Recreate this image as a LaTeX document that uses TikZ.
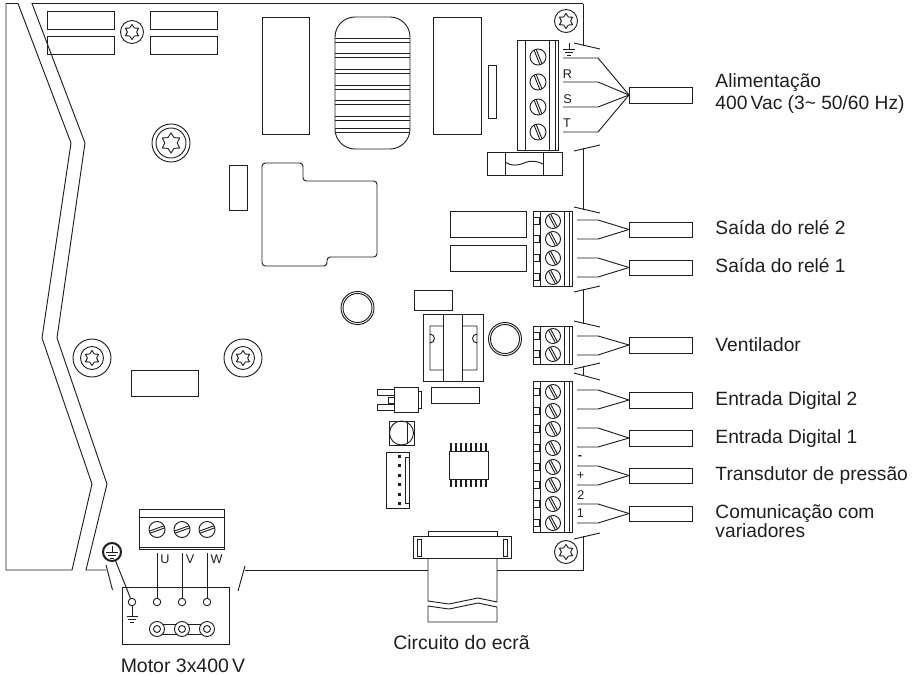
\documentclass[tikz,border=0pt]{standalone}
\usepackage{fontspec}
\setmainfont{Liberation Sans}
\definecolor{ink}{gray}{0.12}
\tikzset{
 every path/.style={line width=0.7pt},
 txt/.style={font=\fontsize{14.4pt}{16.5pt}\selectfont,text=ink,inner sep=0pt,anchor=base west,align=left},
 txttwo/.style={font=\fontsize{14.4pt}{16.5pt}\selectfont,text=ink,inner sep=0pt,anchor=west,align=left},
 txtthree/.style={font=\fontsize{14.4pt}{13.2pt}\selectfont,text=ink,inner sep=0pt,anchor=west,align=left},
 ctxt/.style={font=\fontsize{14.6pt}{16pt}\selectfont,text=ink,inner sep=0pt,anchor=base},
 small/.style={font=\fontsize{9.5pt}{10pt}\selectfont,text=ink,inner sep=0pt},
 termbox/.style={draw=ink,rectangle,inner sep=0pt,outer sep=0pt,minimum width=47.25pt},
}
\newcommand{\torx}[3]{\draw[shift={(#1,#2)}] (90:#3) -- (120:0.62*#3) -- (150:#3) -- (180:0.62*#3) -- (210:#3) -- (240:0.62*#3) -- (270:#3) -- (300:0.62*#3) -- (330:#3) -- (0:0.62*#3) -- (30:#3) -- (60:0.62*#3) -- cycle;}
\newcommand{\slotscrew}[4]{\begin{scope}[shift={(#1,#2)},rotate=#3]
 \draw (0,0) circle[radius=#4];
 \draw (-#4+0.3,-1.1) -- (#4-0.3,-1.1) (-#4+0.3,1.1) -- (#4-0.3,1.1);
 \end{scope}}
\newcommand{\wirepair}[5]{% name, upper y, lower y, box top, box bottom
 \pgfmathsetmacro{\boxmid}{(#4+#5)/2}
 \pgfmathsetmacro{\boxht}{(#5-#4)*0.75}
 \node[termbox,minimum height=\boxht pt] (#1) at (660.5,\boxmid) {};
 \coordinate (#1a) at (577,#2);
 \coordinate (#1b) at (577,#3);
 \draw (#1a) -- (598,#2) -- (#1.west);
 \draw (#1b) -- (598,#3) -- (#1.west);}
\newcommand{\tblock}[3]{% top, bottom, list of screw y
 \draw (533,#1) rectangle (572,#2);
 \draw (540,#1) -- (540,#2) (564,#1) -- (564,#2) (569,#1) -- (569,#2);
 \foreach \yy in {#3} {\slotscrew{553}{\yy}{-62}{7.5}
   \draw (533,\yy-4) rectangle (539.5,\yy+3);}}
\begin{document}
\begin{tikzpicture}[x=0.75pt,y=-0.75pt,color=ink]
\useasboundingbox (0,0) rectangle (916,675);
% board outline
\draw (583,3.5) -- (32,3.5) -- (85,143) -- (57,338) -- (107,484) -- (86,570) -- (106,570);
\draw (18,3.5) -- (71,143) -- (42,338) -- (92,484) -- (72,570) -- (6,570) -- (6,3.5) -- (18,3.5);
\draw (106,565) -- (112.5,590);
\draw (245,566) -- (238,591);
\draw (245,570) -- (428,570);
\draw (497,570) -- (583,570) -- (583,536);
\draw (583,3.5) -- (583,46);
\draw (583,148) -- (583,210);
\draw (583,289) -- (583,324);
\draw (583,366) -- (583,376);
\draw (574,43) -- (600,49);
\draw (574,151) -- (600,145);
\draw (574,207) -- (600,213);
\draw (574,292) -- (600,286);
\draw (574,321) -- (600,327);
\draw (574,369) -- (600,363);
\draw (574,373) -- (600,380);
\draw (574,539) -- (600,533);
% top left rects
\draw (47,11) rectangle (114,29);
\draw (47,36) rectangle (114,54);
\draw (150,11) rectangle (217,29);
\draw (150,36) rectangle (217,54);
\draw (132,32) circle[radius=11.5]; \torx{132}{32}{7.5}
\draw (566,21) circle[radius=11.5]; \torx{566}{21}{7.5}
\draw (566,552) circle[radius=11.5]; \torx{566}{552}{7.5}
\draw (171,143) circle[radius=19]; \draw (171,143) circle[radius=15]; \torx{171}{143}{10}
\draw (92,358) circle[radius=19]; \draw (92,358) circle[radius=11.5]; \torx{92}{358}{7.5}
\draw (243,358) circle[radius=19]; \draw (243,358) circle[radius=11.5]; \torx{243}{358}{7.5}
\draw (131,370) rectangle (198,396);
\draw (229,165) rectangle (247,210);
% big parts
\draw (262,17) rectangle (309,134);
\draw (433,17) rectangle (481,134);
\draw (488,65.5) rectangle (496,118);
\draw[rounded corners=15pt] (335,17) rectangle (410,149);
\foreach \yy in {38.5,42.5,53,57,69,73,85.5,89.5,100.5,104.5,116.5,120.5,128.5,132.5}
  \draw (335,\yy) -- (410,\yy);
\draw[rounded corners=2.5pt] (262,163) -- (303,163) -- (303,181) -- (377,181) -- (377,257) -- (327,257) -- (327,266) -- (262,266) -- cycle;
\draw (450,211) rectangle (526,237);
\draw (450,245) rectangle (526,271);
\draw (414,290) rectangle (452,310);
% transformer
\draw (423,314) rectangle (483,381);
\draw (443,314) -- (443,381) (462,314) -- (462,381);
\draw (443,326) -- (430,326) -- (430,343) arc[start angle=90,end angle=-90,radius=4.5] -- (430,370) -- (443,370);
\draw (462,326) -- (477,326) -- (477,343) arc[start angle=90,end angle=270,radius=4.5] -- (477,370) -- (462,370);
\draw (505,339) circle[radius=16.5]; \draw (505,339) circle[radius=14.5];
\draw (357.5,308) circle[radius=16.5]; \draw (357.5,308) circle[radius=14.5];
% transistor
\draw (394,387) rectangle (418,412);
\draw (418,391) -- (421.5,391) -- (421.5,408) -- (418,408);
\draw (394,389) -- (377,389) -- (377,395) -- (394,395);
\draw (394,404) -- (377,404) -- (377,410) -- (394,410);
\draw (394,397) -- (388,397) -- (388,403) -- (394,403);
\draw (431,387) rectangle (479,403);
% square with circle
\draw (389,421) rectangle (414,445);
\draw (401.5,433) circle[radius=12];
\draw (407,422.5) -- (407,443.5);
% IC
\draw (449,451) rectangle (488,479);
\foreach \xx in {451,456,461,466,471,476,481,486}{
  \draw[line width=1.6pt] (\xx,443) -- (\xx,451);
  \draw[line width=1.6pt] (\xx,479) -- (\xx,487);}
% connector
\draw (386,452) rectangle (409,508);
\draw (409,457) -- (405,457) -- (405,503) -- (409,503);
\foreach \yy in {455,464.5,474,483.5,493,502}
  \draw[fill=ink] (398.5,\yy) rectangle ++(2,2);
% power terminal
\draw (517,40) rectangle (558,150);
\draw (525,40) -- (525,150) (549,40) -- (549,150) (555,40) -- (555,150);
\foreach \yy in {57,82,107,132} {\slotscrew{538}{\yy}{-68}{8}}
\draw (487,152) rectangle (562,175);
\draw (505,152) -- (505,175) (543,152) -- (543,175);
\draw (505,162) .. controls (511,166) and (517,166) .. (524,163) .. controls (531,160) and (537,161) .. (543,164);
% second terminals
\tblock{211}{286}{221,239,258,277}
\tblock{326}{364}{336,354}
\tblock{381}{532}{392,411,429,448,467,485,504,523}
% motor terminal
\draw (139,509) rectangle (224,549);
\draw (139,517) -- (224,517) (139,547) -- (224,547);
\foreach \xx in {157,182,207} {\slotscrew{\xx}{529.5}{20}{8}}
% motor box
\draw (122,587) rectangle (229,644);
\foreach \xx/\nm in {132/e,157/u,182/v,207/w}
  \node[draw=ink,circle,fill=white,minimum size=5.6pt,inner sep=0pt,outer sep=0pt] (t\nm) at (\xx,602) {};
\coordinate (cu) at (157,553);
\coordinate (cv) at (182,553);
\coordinate (cw) at (207,553);
\draw (cu) -- (tu);
\draw (cv) -- (tv);
\draw (cw) -- (tw);
\node[small] (lu) at (165,559) {U};
\node[small] (lv) at (190,559) {V};
\node[small] (lw) at (216.5,559) {W};
\node[draw=ink,circle,line width=1.5pt,minimum size=13.5pt,inner sep=0pt,outer sep=0pt] (gnd) at (112,552) {};
\draw (gnd) -- (te);
\draw (112,545.5) -- (112,552) (106,552) -- (118,552) (108,555) -- (116,555) (110,558) -- (114,558);
\draw (132,606) -- (132,616) (126.5,616) -- (137.5,616) (128,619) -- (136,619) (130,622) -- (134,622);
% link
\draw (157,624) -- (207,624) (157,634.5) -- (207,634.5);
\foreach \xx in {157,182,207} {
  \draw[fill=white] (\xx,629) circle[radius=7.5];
  \draw (\xx,629) circle[radius=3.5];}
% display connector
\draw (428,531) rectangle (497,536);
\draw (413,536) rectangle (511,558);
\draw (417,539) rectangle (421,556);
\draw (503,539) rectangle (507,556);
\draw (428,558) -- (428,601) -- (449,604) -- (478,598) -- (497,602) -- (497,558);
\draw (428,606) -- (449,609) -- (478,603) -- (497,607) -- (497,622) -- (428,622) -- cycle;
% wires
\node[termbox,minimum height=12pt] (pw) at (660.5,95) {};
\coordinate (pe) at (563,58);
\coordinate (pr) at (563,82);
\coordinate (ps) at (563,107);
\coordinate (pt) at (563,132);
\draw (pe) -- (598,58) -- (pw.west);
\draw (pr) -- (598,82) -- (pw.west);
\draw (ps) -- (598,107) -- (pw.west);
\draw (pt) -- (598,132) -- (pw.west);
\draw (569,43) -- (569,49) (563,49) -- (575,49) (565,52) -- (573,52) (567,55) -- (571,55);
\node[small] (lr) at (567.5,74) {R};
\node[small] (ls) at (567.5,99) {S};
\node[small] (lt) at (567,123) {T};
\wirepair{ra}{220}{239}{222}{237}
\wirepair{rb}{258}{277}{260}{275}
\wirepair{fan}{336}{355}{337}{353}
\wirepair{da}{390}{409}{392}{408}
\wirepair{db}{428}{447}{430}{446}
\wirepair{pp}{466}{485}{468}{483}
\wirepair{cm}{504}{523}{506}{521}
\node[small,font=\bfseries\fontsize{9.5pt}{10pt}\selectfont] (lm) at (580,457) {-};
\node[small] (lp) at (580.5,476) {+};
\node[small] (l2) at (581,495) {2};
\node[small] (l1) at (580.5,513) {1};
% labels
\node[txttwo] (a1) at (715,93.5) {Alimentação\\400\,Vac (3\textasciitilde{} 50/60 Hz)};
\node[txt] (a2) at (715,234) {Saída do relé 2};
\node[txt] (a3) at (715,272) {Saída do relé 1};
\node[txt] (a4) at (715,351) {Ventilador};
\node[txt] (a5) at (715,405) {Entrada Digital 2};
\node[txt] (a6) at (715,443) {Entrada Digital 1};
\node[txt] (a7) at (715,480) {Transdutor de pressão};
\node[txtthree] (a8) at (715,521) {Comunicação com\\variadores};
\node[ctxt] (a9) at (461.5,649) {Circuito do ecrã};
\node[ctxt] (a10) at (183,672) {Motor 3x400\,V};
\end{tikzpicture}
\end{document}
